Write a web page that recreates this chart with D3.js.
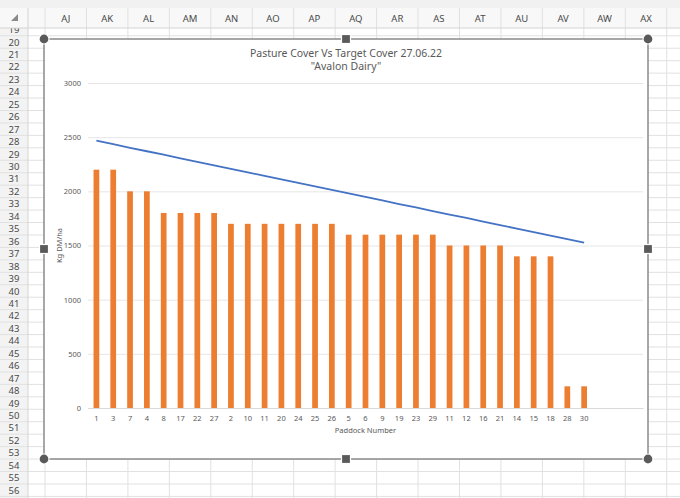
<!DOCTYPE html>
<html>
<head>
<meta charset="utf-8">
<script src="https://cdn.jsdelivr.net/npm/d3@7"></script>
<style>
  body { margin: 0; background: #fff; }
  svg { display: block; }
</style>
</head>
<body>
<div id="sheet"></div>
<script>
// chart data
var paddocks = ["1", "3", "7", "4", "8", "17", "22", "27", "2", "10", "11", "20", "24", "25", "26",
                "5", "6", "9", "19", "23", "29", "11", "12", "16", "21", "14", "15", "18", "28", "30"];
var pastureCover = [2200, 2200, 2000, 2000, 1800, 1800, 1800, 1800, 1700, 1700, 1700, 1700, 1700, 1700, 1700,
                    1600, 1600, 1600, 1600, 1600, 1600, 1500, 1500, 1500, 1500, 1400, 1400, 1400, 200, 200];
var targetCover = [2467, 2435, 2402, 2370, 2338, 2305, 2273, 2240, 2208, 2175, 2143, 2110, 2078, 2046, 2013,
                   1981, 1948, 1916, 1883, 1851, 1818, 1786, 1754, 1721, 1689, 1656, 1624, 1591, 1559, 1526];
var yTicks = [0, 500, 1000, 1500, 2000, 2500, 3000];
var titleLines = ["Pasture Cover Vs Target Cover 27.06.22", "\"Avalon Dairy\""];

// spreadsheet around the chart
var sheetColumns = ["AJ", "AK", "AL", "AM", "AN", "AO", "AP", "AQ", "AR", "AS", "AT", "AU", "AV", "AW", "AX", ""];
var sheetRows = [19, 20, 21, 22, 23, 24, 25, 26, 27, 28, 29, 30, 31, 32, 33, 34, 35, 36, 37, 38,
                 39, 40, 41, 42, 43, 44, 45, 46, 47, 48, 49, 50, 51, 52, 53, 54, 55, 56];

var W = 680, H = 498;
var headTop = 8, headBottom = 28, rowHeadW = 28;
var colStart = 45, colW = 41.45;
var rowCenter0 = 29.55, rowH = 12.45;

var svg = d3.select("#sheet").append("svg")
    .attr("width", W)
    .attr("height", H)
    .style("font-family", "'Noto Sans', 'Open Sans', sans-serif");

svg.append("defs").append("clipPath").attr("id", "cells")
    .append("rect").attr("x", 0).attr("y", headBottom).attr("width", W).attr("height", H - headBottom);

svg.append("rect").attr("width", W).attr("height", H).attr("fill", "#fff");
svg.append("rect").attr("width", W).attr("height", headTop).attr("fill", "#f1f1f1");
svg.append("rect").attr("y", headTop).attr("width", W).attr("height", headBottom - headTop).attr("fill", "#f8f8f8");
svg.append("rect").attr("y", headBottom).attr("width", rowHeadW).attr("height", H - headBottom).attr("fill", "#f3f3f3");

var cells = svg.append("g").attr("clip-path", "url(#cells)");

// row lines and row numbers
sheetRows.forEach(function (r, i) {
    var cy = rowCenter0 + i * rowH;
    cells.append("line")
        .attr("x1", 0).attr("x2", W)
        .attr("y1", cy + rowH / 2).attr("y2", cy + rowH / 2)
        .attr("stroke", "#e1e1e1").attr("stroke-width", 1);
    cells.append("text")
        .attr("x", 14).attr("y", cy + 3.5)
        .attr("text-anchor", "middle")
        .attr("font-size", 9.5).attr("fill", "#4a4a4a")
        .text(r);
});

// column lines and letters
svg.append("line")
    .attr("x1", rowHeadW).attr("x2", rowHeadW).attr("y1", headTop).attr("y2", H)
    .attr("stroke", "#d4d4d4");
sheetColumns.forEach(function (c, i) {
    var x0 = colStart + i * colW;
    svg.append("line")
        .attr("x1", x0).attr("x2", x0).attr("y1", headTop).attr("y2", H)
        .attr("stroke", "#e1e1e1");
    svg.append("text")
        .attr("x", x0 + colW / 2).attr("y", 21.5)
        .attr("text-anchor", "middle")
        .attr("font-size", 9.5).attr("fill", "#4a4a4a")
        .text(c);
});
svg.append("line")
    .attr("x1", 0).attr("x2", W).attr("y1", headBottom).attr("y2", headBottom)
    .attr("stroke", "#d4d4d4");
svg.append("path")
    .attr("d", "M18,14 L18,21 L11,21 Z")
    .attr("fill", "#8a8a8a");

// chart object
var box = { x: 44, y: 39, w: 604, h: 420 };
svg.append("rect")
    .attr("x", box.x).attr("y", box.y).attr("width", box.w).attr("height", box.h)
    .attr("fill", "#fff")
    .attr("stroke", "#8a8a8a").attr("stroke-width", 1.5);

var plot = { left: 88, right: 643, top: 83, bottom: 408 };
var emptySlots = 3;

var x = d3.scaleBand()
    .domain(d3.range(paddocks.length + emptySlots))
    .range([plot.left, plot.right]);
var y = d3.scaleLinear()
    .domain([0, 3000])
    .range([plot.bottom, plot.top]);

var chart = svg.append("g");

var yAxis = d3.axisLeft(y)
    .tickValues(yTicks)
    .tickFormat(d3.format("d"))
    .tickSize(-(plot.right - plot.left))
    .tickPadding(7);
chart.append("g")
    .attr("transform", "translate(" + plot.left + ",0)")
    .call(yAxis)
    .call(function (g) {
        g.select(".domain").remove();
        g.selectAll(".tick line").attr("stroke", "#e6e6e6").attr("stroke-width", 1);
        g.selectAll(".tick text")
            .attr("font-size", 7.5).attr("fill", "#595959")
            .attr("font-family", "'Noto Sans', sans-serif");
    });

var xAxis = d3.axisBottom(x)
    .tickSize(0)
    .tickPadding(8)
    .tickFormat(function (i) { return i < paddocks.length ? paddocks[i] : ""; });
chart.append("g")
    .attr("transform", "translate(0," + plot.bottom + ")")
    .call(xAxis)
    .call(function (g) {
        g.select(".domain").attr("stroke", "#d9d9d9").attr("stroke-width", 1);
        g.selectAll(".tick text")
            .attr("font-size", 7.5).attr("fill", "#595959")
            .attr("font-family", "'Noto Sans', sans-serif");
    });

var barW = x.bandwidth() * 0.34;
chart.append("g").selectAll("rect")
    .data(pastureCover)
    .enter().append("rect")
    .attr("x", function (d, i) { return x(i) + (x.bandwidth() - barW) / 2; })
    .attr("y", function (d) { return y(d); })
    .attr("width", barW)
    .attr("height", function (d) { return y(0) - y(d); })
    .attr("fill", "#ed7d31");

var line = d3.line()
    .x(function (d, i) { return x(i) + x.bandwidth() / 2; })
    .y(function (d) { return y(d); });
chart.append("path")
    .datum(targetCover)
    .attr("d", line)
    .attr("fill", "none")
    .attr("stroke", "#4472c4")
    .attr("stroke-width", 1.8);

// titles
titleLines.forEach(function (t, i) {
    chart.append("text")
        .attr("x", box.x + box.w / 2).attr("y", 56.5 + i * 13.5)
        .attr("text-anchor", "middle")
        .attr("font-size", 10.5).attr("fill", "#595959")
        .text(t);
});
chart.append("text")
    .attr("x", (plot.left + plot.right) / 2).attr("y", 433)
    .attr("text-anchor", "middle")
    .attr("font-size", 7.5).attr("fill", "#595959")
    .text("Paddock Number");
chart.append("text")
    .attr("transform", "translate(62," + (plot.top + plot.bottom) / 2 + ") rotate(-90)")
    .attr("text-anchor", "middle")
    .attr("font-size", 7.5).attr("fill", "#595959")
    .text("Kg DM/ha");

// selection handles
var corners = [[box.x, box.y], [box.x + box.w, box.y], [box.x, box.y + box.h], [box.x + box.w, box.y + box.h]];
var mids = [[box.x + box.w / 2, box.y], [box.x, box.y + box.h / 2], [box.x + box.w, box.y + box.h / 2], [box.x + box.w / 2, box.y + box.h]];
svg.selectAll("circle.handle")
    .data(corners)
    .enter().append("circle")
    .attr("class", "handle")
    .attr("cx", function (d) { return d[0]; })
    .attr("cy", function (d) { return d[1]; })
    .attr("r", 5)
    .attr("fill", "#5a5a5a")
    .attr("stroke", "#fff").attr("stroke-width", 1.2);
svg.selectAll("rect.handle")
    .data(mids)
    .enter().append("rect")
    .attr("class", "handle")
    .attr("x", function (d) { return d[0] - 4.5; })
    .attr("y", function (d) { return d[1] - 4.5; })
    .attr("width", 9).attr("height", 9)
    .attr("fill", "#5a5a5a")
    .attr("stroke", "#fff").attr("stroke-width", 1.2);
</script>
</body>
</html>
